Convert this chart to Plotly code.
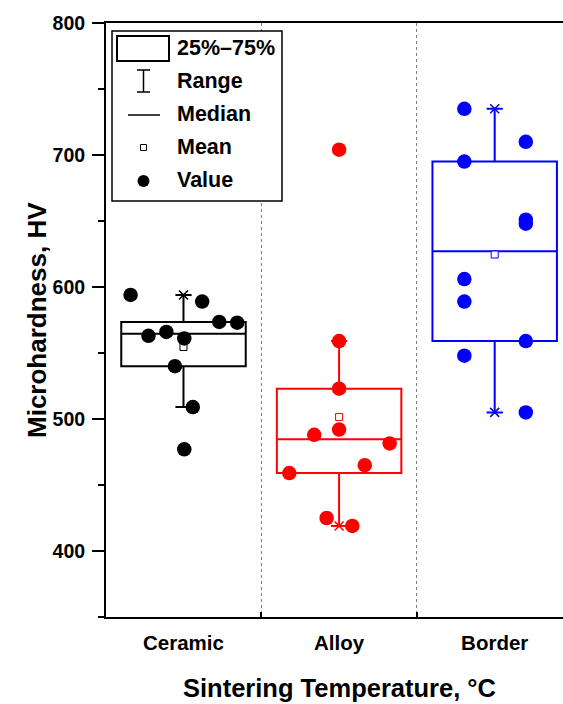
import numpy as np
import plotly.graph_objects as go

# ---------------- data ----------------
categories = ["Ceramic", "Alloy", "Border"]
ceramic = [594, 589, 573.5, 573, 563, 566, 561, 540, 509, 477]
alloy = [704, 559, 523, 492, 488, 481.5, 465, 459, 425, 419]
border = [735, 710, 695, 651, 648, 606, 589, 559, 548, 505]
groups = [ceramic, alloy, border]
colors = ["#000000", "#FF0000", "#0000FF"]
y_ticks = [400, 500, 600, 700, 800]
y_minor = [350, 450, 550, 650, 750]

# horizontal jitter of the individual points (style/layout only)
ceramic_jitter = [-0.34, 0.12, 0.23, 0.345, -0.225, -0.11, 0.005, -0.055, 0.06, 0.005]
alloy_jitter = [0, 0, 0, 0, -0.16, 0.325, 0.165, -0.32, -0.08, 0.085]
border_jitter = [-0.195, 0.2, -0.195, 0.2, 0.2, -0.195, -0.195, 0.2, -0.195, 0.2]
jitters = [ceramic_jitter, alloy_jitter, border_jitter]

# ---------------- geometry ----------------
W, H = 563, 704
ML, MR, MT, MB = 106, 0, 23, 87
PW, PH = W - ML - MR, H - MT - MB
FONT = "Liberation Sans, Arial, sans-serif"


def px(x):
    return (x - ML) / PW


def py(y):
    return (H - MB - y) / PH


fig = go.Figure()

for i, (vals, c) in enumerate(zip(groups, colors)):
    # whiskers at 1.5 IQR (outlier markers hidden; the raw points are drawn separately)
    fig.add_trace(go.Box(
        y=vals, x0=i, width=0.8, boxpoints="outliers", quartilemethod="exclusive",
        whiskerwidth=0.13, line=dict(color=c, width=2),
        marker=dict(opacity=0, size=1),
        fillcolor="rgba(0,0,0,0)", showlegend=False, hoverinfo="skip",
    ))
for i, (vals, c) in enumerate(zip(groups, colors)):
    fig.add_trace(go.Scatter(
        x=[i, i], y=[min(vals), max(vals)], mode="markers", showlegend=False,
        marker=dict(symbol="x-thin-open", size=9, line=dict(color=c, width=1.5), color=c),
    ))
    fig.add_trace(go.Scatter(
        x=[i], y=[float(np.mean(vals))], mode="markers", showlegend=False,
        marker=dict(symbol="square", size=7, color="white", line=dict(color=c, width=1)),
    ))
for i, (vals, c, jit) in enumerate(zip(groups, colors, jitters)):
    fig.add_trace(go.Scatter(
        x=[i + j for j in jit], y=vals, mode="markers", showlegend=False,
        marker=dict(symbol="circle", size=14.5, color=c, line=dict(width=0)),
    ))

# ---------------- legend (manual, Origin style) ----------------
shapes = []
shapes.append(dict(type="rect", xref="paper", yref="paper",
                   x0=px(112), x1=px(282), y0=py(201), y1=py(31),
                   line=dict(color="black", width=1.5), fillcolor="white", layer="above"))
shapes.append(dict(type="rect", xref="paper", yref="paper",
                   x0=px(117), x1=px(169), y0=py(61), y1=py(36),
                   line=dict(color="black", width=2), layer="above"))
# range I-beam
shapes.append(dict(type="line", xref="paper", yref="paper", x0=px(143.5), x1=px(143.5),
                   y0=py(70), y1=py(92), line=dict(color="black", width=1.5), layer="above"))
shapes.append(dict(type="line", xref="paper", yref="paper", x0=px(137), x1=px(150),
                   y0=py(70), y1=py(70), line=dict(color="black", width=1.5), layer="above"))
shapes.append(dict(type="line", xref="paper", yref="paper", x0=px(137), x1=px(150),
                   y0=py(92), y1=py(92), line=dict(color="black", width=1.5), layer="above"))
# median line
shapes.append(dict(type="line", xref="paper", yref="paper", x0=px(128), x1=px(160),
                   y0=py(115), y1=py(115), line=dict(color="black", width=1.5), layer="above"))
# mean square
shapes.append(dict(type="rect", xref="paper", yref="paper", x0=px(140.5), x1=px(146.5),
                   y0=py(150.5), y1=py(144.5), line=dict(color="black", width=1),
                   fillcolor="white", layer="above"))
# value dot
shapes.append(dict(type="circle", xref="paper", yref="paper", x0=px(137.5), x1=px(149.5),
                   y0=py(187), y1=py(175), line=dict(color="black", width=0),
                   fillcolor="black", layer="above"))

legend_labels = ["25%\u201375%", "Range", "Median", "Mean", "Value"]
legend_y = [48, 81, 114, 147, 180]
annotations = []
for lab, yy in zip(legend_labels, legend_y):
    annotations.append(dict(text=lab, xref="paper", yref="paper", x=px(175), y=py(yy),
                            xanchor="left", yanchor="middle", showarrow=False,
                            font=dict(family=FONT, size=21.5, color="black", weight="bold")))

annotations.append(dict(text="Sintering Temperature, \u00b0C", xref="paper", yref="paper",
                        x=px(339), y=py(688), xanchor="center", yanchor="middle", showarrow=False,
                        font=dict(family=FONT, size=25.5, color="black", weight="bold")))
annotations.append(dict(text="Microhardness, HV", xref="paper", yref="paper",
                        x=px(36.5), y=py(320.5), xanchor="center", yanchor="middle",
                        textangle=-90, showarrow=False,
                        font=dict(family=FONT, size=26, color="black", weight="bold")))

fig.update_layout(
    width=W, height=H, margin=dict(l=ML, r=MR, t=MT, b=MB, autoexpand=False),
    plot_bgcolor="white", paper_bgcolor="white", boxmode="overlay",
    showlegend=False, shapes=shapes, annotations=annotations,
    font=dict(family=FONT, color="black"),
    xaxis=dict(
        range=[-0.498, 2.439], tickmode="array", tickvals=[0, 1, 2], ticktext=categories,
        ticks="", showline=True, linecolor="black", linewidth=2, mirror=True,
        showgrid=False, zeroline=False, fixedrange=True,
        tickfont=dict(family=FONT, size=20.5, color="black", weight="bold"),
        ticklabelstandoff=6,
        minor=dict(tickmode="array", tickvals=[0.5, 1.5, 2.5], ticks="inside", ticklen=5,
                   tickwidth=2, tickcolor="black", showgrid=True, gridcolor="#808080",
                   griddash="dot", gridwidth=1),
    ),
    yaxis=dict(
        range=[350, 800], tickmode="array", tickvals=y_ticks, ticks="outside", ticklen=12,
        tickwidth=2, tickcolor="black", showline=True, linecolor="black", linewidth=2,
        mirror=False, showgrid=False, zeroline=False,
        tickfont=dict(family=FONT, size=19.5, color="black", weight="bold"),
        ticklabelstandoff=3,
        minor=dict(tickmode="array", tickvals=y_minor, ticks="outside", ticklen=6,
                   tickwidth=2, tickcolor="black", showgrid=False),
    ),
)

fig.write_html("out.html")
